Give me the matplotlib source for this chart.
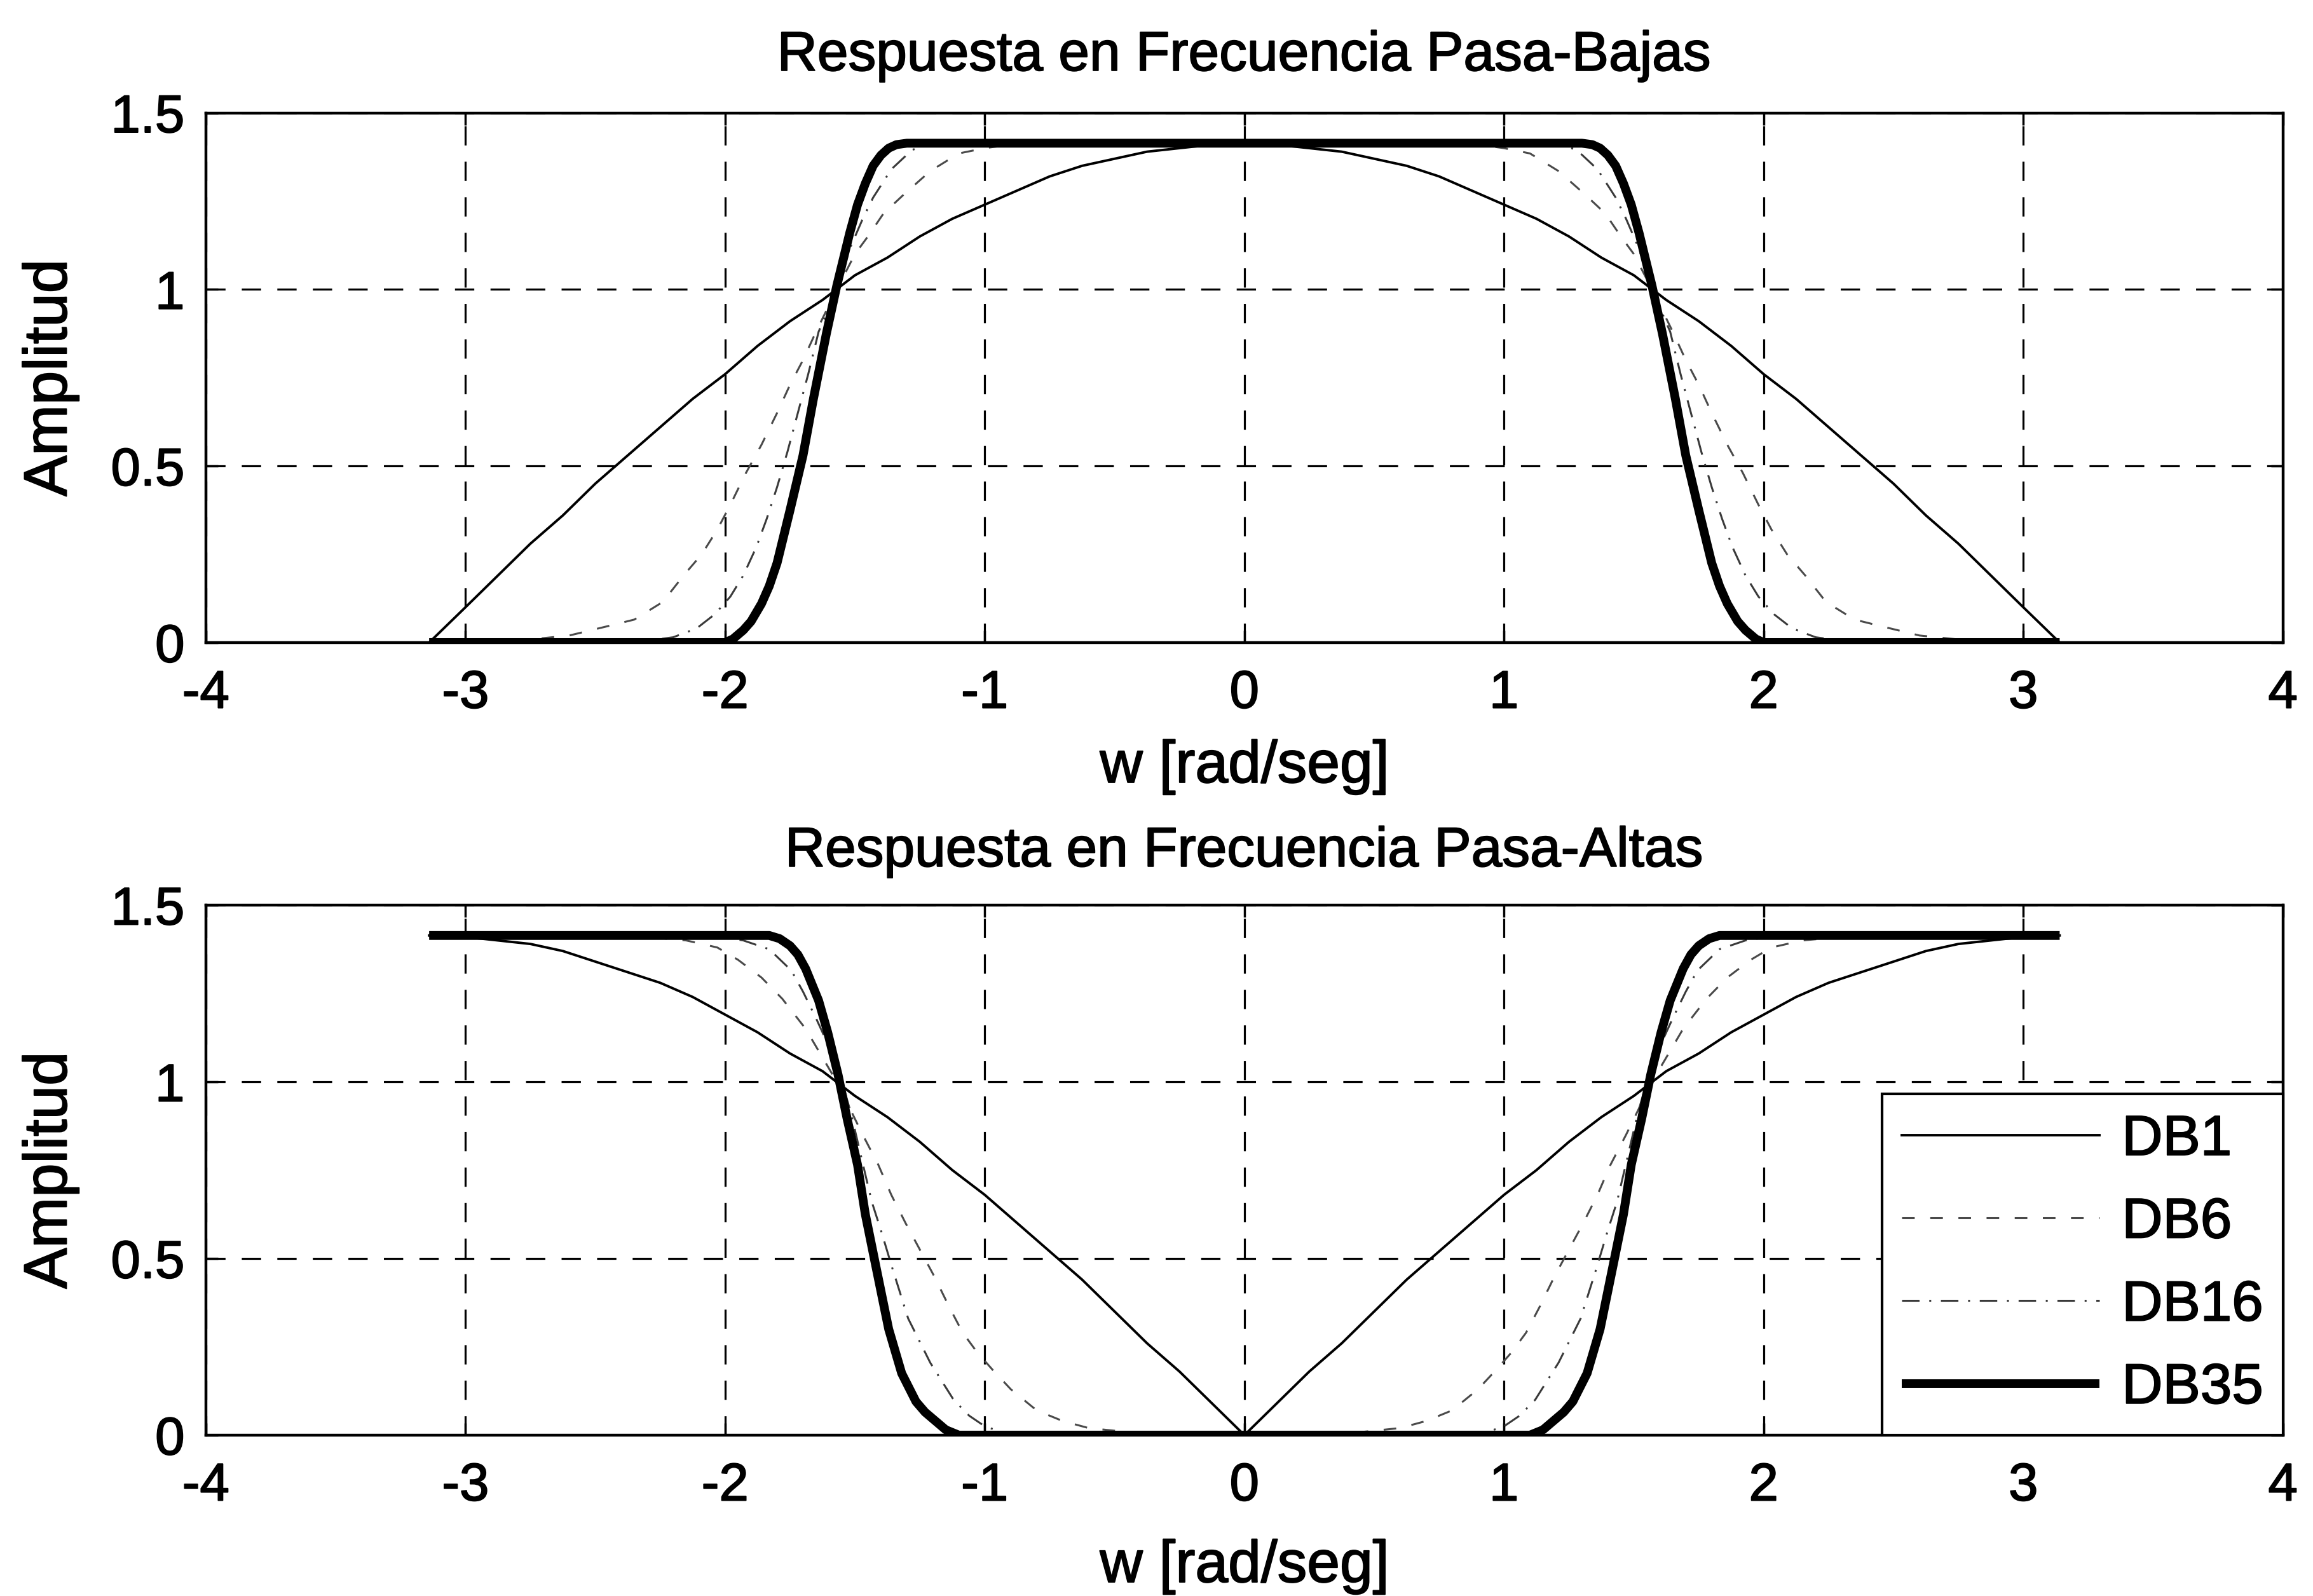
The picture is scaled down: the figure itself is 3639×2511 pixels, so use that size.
import matplotlib
matplotlib.use("Agg")
import matplotlib.pyplot as plt
import matplotlib.patheffects as pe

plt.rcParams['font.family'] = ['Liberation Sans', 'DejaVu Sans']
plt.rcParams['axes.unicode_minus'] = False

# ---------------- data ----------------
x_ticks = [-4, -3, -2, -1, 0, 1, 2, 3, 4]
x_ticklabels = ["-4", "-3", "-2", "-1", "0", "1", "2", "3", "4"]
y_ticks = [0, 0.5, 1, 1.5]
y_ticklabels = ["0", "0.5", "1", "1.5"]
series_names = ["DB1", "DB6", "DB16", "DB35"]
titles = ["Respuesta en Frecuencia Pasa-Bajas", "Respuesta en Frecuencia Pasa-Altas"]

# DB1 (both panels share the same frequency samples)
w_db1 = [-3.14, -3.0, -2.875, -2.75, -2.625, -2.5, -2.375, -2.25, -2.125, -2.0, -1.875, -1.75, -1.625,
         -1.5, -1.375, -1.25, -1.125, -1.0, -0.875, -0.75, -0.625, -0.5, -0.375, -0.25, -0.125, 0.0,
         0.125, 0.25, 0.375, 0.5, 0.625, 0.75, 0.875, 1.0, 1.125, 1.25, 1.375, 1.5, 1.625,
         1.75, 1.875, 2.0, 2.125, 2.25, 2.375, 2.5, 2.625, 2.75, 2.875, 3.0, 3.14]
lp_db1 = [0.0, 0.10, 0.19, 0.28, 0.36, 0.45, 0.53, 0.61, 0.69, 0.76, 0.84, 0.91, 0.97,
          1.04, 1.09, 1.15, 1.20, 1.24, 1.28, 1.32, 1.35, 1.37, 1.39, 1.40, 1.41, 1.414,
          1.41, 1.40, 1.39, 1.37, 1.35, 1.32, 1.28, 1.24, 1.20, 1.15, 1.09, 1.04, 0.97,
          0.91, 0.84, 0.76, 0.69, 0.61, 0.53, 0.45, 0.36, 0.28, 0.19, 0.10, 0.0]
hp_db1 = [1.414, 1.41, 1.40, 1.39, 1.37, 1.34, 1.31, 1.28, 1.24, 1.19, 1.14, 1.08, 1.03,
          0.96, 0.90, 0.83, 0.75, 0.68, 0.60, 0.52, 0.44, 0.35, 0.26, 0.18, 0.09, 0.0,
          0.09, 0.18, 0.26, 0.35, 0.44, 0.52, 0.60, 0.68, 0.75, 0.83, 0.90, 0.96, 1.03,
          1.08, 1.14, 1.19, 1.24, 1.28, 1.31, 1.34, 1.37, 1.39, 1.40, 1.41, 1.414]

# Low-pass DB6
w_lp_db6 = [-3.14, -2.8, -2.6, -2.46, -2.35, -2.24, -2.16, -2.09, -2.03, -1.98, -1.92, -1.86, -1.80,
            -1.75, -1.70, -1.65, -1.57, -1.50, -1.45, -1.39, -1.31, -1.21, -1.10, -1.0, -0.9, -0.75,
            0.0,
            0.75, 0.9, 1.0, 1.10, 1.21, 1.31, 1.39, 1.45, 1.50, 1.57, 1.65, 1.70, 1.75, 1.80, 1.86,
            1.92, 1.98, 2.03, 2.09, 2.16, 2.24, 2.35, 2.46, 2.6, 2.8, 3.14]
a_lp_db6 = [0.0, 0.005, 0.02, 0.045, 0.065, 0.115, 0.19, 0.25, 0.32, 0.39, 0.48, 0.56, 0.65,
            0.73, 0.80, 0.88, 1.0, 1.10, 1.15, 1.215, 1.27, 1.335, 1.385, 1.40, 1.41, 1.414,
            1.414,
            1.414, 1.41, 1.40, 1.385, 1.335, 1.27, 1.215, 1.15, 1.10, 1.0, 0.88, 0.80, 0.73, 0.65, 0.56,
            0.48, 0.39, 0.32, 0.25, 0.19, 0.115, 0.065, 0.045, 0.02, 0.005, 0.0]

# Low-pass DB16
w_lp_db16 = [-3.14, -2.35, -2.2, -2.11, -2.04, -1.98, -1.93, -1.88, -1.84, -1.80, -1.76, -1.72, -1.68,
             -1.64, -1.57, -1.52, -1.47, -1.43, -1.36, -1.28, -1.2,
             0.0,
             1.2, 1.28, 1.36, 1.43, 1.47, 1.52, 1.57, 1.64, 1.68, 1.72, 1.76, 1.80, 1.84, 1.88, 1.93,
             1.98, 2.04, 2.11, 2.2, 2.35, 3.14]
a_lp_db16 = [0.0, 0.0, 0.015, 0.04, 0.08, 0.13, 0.19, 0.27, 0.35, 0.44, 0.54, 0.65, 0.76,
             0.88, 1.0, 1.115, 1.20, 1.26, 1.34, 1.395, 1.414,
             1.414,
             1.414, 1.395, 1.34, 1.26, 1.20, 1.115, 1.0, 0.88, 0.76, 0.65, 0.54, 0.44, 0.35, 0.27, 0.19,
             0.13, 0.08, 0.04, 0.015, 0.0, 0.0]

# Low-pass DB35
w_lp_db35 = [-3.14, -2.0, -1.97, -1.93, -1.90, -1.86, -1.83, -1.80, -1.75, -1.70, -1.66, -1.61, -1.57,
             -1.52, -1.49, -1.46, -1.43, -1.40, -1.37, -1.34, -1.30,
             0.0,
             1.30, 1.34, 1.37, 1.40, 1.43, 1.46, 1.49, 1.52, 1.57, 1.61, 1.66, 1.70, 1.75, 1.80, 1.83,
             1.86, 1.90, 1.93, 1.97, 2.0, 3.14]
a_lp_db35 = [0.0, 0.0, 0.01, 0.035, 0.06, 0.11, 0.16, 0.225, 0.375, 0.53, 0.69, 0.875, 1.01,
             1.16, 1.24, 1.30, 1.35, 1.38, 1.40, 1.41, 1.414,
             1.414,
             1.414, 1.41, 1.40, 1.38, 1.35, 1.30, 1.24, 1.16, 1.01, 0.875, 0.69, 0.53, 0.375, 0.225, 0.16,
             0.11, 0.06, 0.035, 0.01, 0.0, 0.0]

# High-pass DB6
w_hp_db6 = [-3.14, -2.3, -2.15, -2.03, -1.95, -1.86, -1.78, -1.69, -1.57, -1.47, -1.41, -1.36, -1.305,
            -1.25, -1.195, -1.135, -1.085, -1.03, -0.97, -0.9, -0.8, -0.7, -0.6, -0.4,
            0.0,
            0.4, 0.6, 0.7, 0.8, 0.9, 0.97, 1.03, 1.085, 1.135, 1.195, 1.25, 1.305, 1.36, 1.41, 1.47,
            1.57, 1.69, 1.78, 1.86, 1.95, 2.03, 2.15, 2.3, 3.14]
a_hp_db6 = [1.414, 1.41, 1.40, 1.38, 1.345, 1.295, 1.235, 1.15, 1.0, 0.85, 0.765, 0.68, 0.60,
            0.525, 0.45, 0.36, 0.29, 0.235, 0.185, 0.13, 0.07, 0.04, 0.02, 0.005,
            0.0,
            0.005, 0.02, 0.04, 0.07, 0.13, 0.185, 0.235, 0.29, 0.36, 0.45, 0.525, 0.60, 0.68, 0.765, 0.85,
            1.0, 1.15, 1.235, 1.295, 1.345, 1.38, 1.40, 1.41, 1.414]

# High-pass DB16
w_hp_db16 = [-3.14, -2.05, -1.93, -1.83, -1.745, -1.70, -1.65, -1.60, -1.55, -1.515, -1.48, -1.435,
             -1.40, -1.355, -1.295, -1.21, -1.12, -1.06, -1.0, -0.9,
             0.0,
             0.9, 1.0, 1.06, 1.12, 1.21, 1.295, 1.355, 1.40, 1.435, 1.48, 1.515, 1.55, 1.60, 1.65,
             1.70, 1.745, 1.83, 1.93, 2.05, 3.14]
a_hp_db16 = [1.414, 1.414, 1.40, 1.375, 1.315, 1.255, 1.18, 1.10, 1.0, 0.91, 0.80, 0.66,
             0.58, 0.47, 0.33, 0.205, 0.10, 0.055, 0.025, 0.0,
             0.0,
             0.0, 0.025, 0.055, 0.10, 0.205, 0.33, 0.47, 0.58, 0.66, 0.80, 0.91, 1.0, 1.10, 1.18,
             1.255, 1.315, 1.375, 1.40, 1.414, 1.414]

# High-pass DB35
w_hp_db35 = [-3.14, -1.83, -1.79, -1.75, -1.72, -1.69, -1.64, -1.605, -1.565, -1.53, -1.49, -1.46,
             -1.42, -1.37, -1.32, -1.265, -1.23, -1.19, -1.15, -1.10,
             0.0,
             1.10, 1.15, 1.19, 1.23, 1.265, 1.32, 1.37, 1.42, 1.46, 1.49, 1.53, 1.565, 1.605, 1.64,
             1.69, 1.72, 1.75, 1.79, 1.83, 3.14]
a_hp_db35 = [1.414, 1.414, 1.405, 1.385, 1.36, 1.32, 1.23, 1.14, 1.02, 0.895, 0.765, 0.625,
             0.48, 0.30, 0.175, 0.095, 0.065, 0.04, 0.015, 0.0,
             0.0,
             0.0, 0.015, 0.04, 0.065, 0.095, 0.175, 0.30, 0.48, 0.625, 0.765, 0.895, 1.02, 1.14, 1.23,
             1.32, 1.36, 1.385, 1.405, 1.414, 1.414]

# ---------------- styles ----------------
styles = {
    "DB1": dict(color="black", lw=2.8, ls="-"),
    "DB6": dict(color="#4a4a4a", lw=2.2, ls=(0, (6.5, 8))),
    "DB16": dict(color="#3a3a3a", lw=2.2, ls=(0, (9, 5, 1, 5))),
    "DB35": dict(color="black", lw=10, ls="-", solid_capstyle="butt"),
}

TICK_FS = 60
XLABEL_FS = 67
YLABEL_FS = 69
TITLE_FS = 63
LEGEND_FS = 64
BOLDEN = [pe.withStroke(linewidth=1.4, foreground="black")]

fig = plt.figure(figsize=(36.39, 25.11), dpi=100)
fig.patch.set_facecolor("white")
ax1 = fig.add_axes([0.0890, 0.5974, 0.8980, 0.3319])
ax2 = fig.add_axes([0.0890, 0.1008, 0.8980, 0.3321])

panels = [
    (ax1, [(w_db1, lp_db1), (w_lp_db6, a_lp_db6), (w_lp_db16, a_lp_db16), (w_lp_db35, a_lp_db35)],
     titles[0], 48, 24),
    (ax2, [(w_db1, hp_db1), (w_hp_db6, a_hp_db6), (w_hp_db16, a_hp_db16), (w_hp_db35, a_hp_db35)],
     titles[1], 44, 32),
]

for ax, curves, title, tpad, xpad in panels:
    for name, (w, a) in zip(series_names, curves):
        ax.plot(w, a, label=name, **styles[name])
    ax.set_xlim(-4, 4)
    ax.set_ylim(0, 1.5)
    ax.set_xticks(x_ticks)
    ax.set_xticklabels(x_ticklabels)
    ax.set_yticks(y_ticks)
    ax.set_yticklabels(y_ticklabels)
    ax.grid(True, color="black", lw=2.3, ls=(0, (9.5, 8)))
    ax.set_axisbelow(True)
    ax.tick_params(axis="both", direction="in", length=14, width=2.5, top=True, right=True,
                   labelsize=TICK_FS)
    ax.tick_params(axis="x", pad=30)
    ax.tick_params(axis="y", pad=24)
    for s in ax.spines.values():
        s.set_linewidth(3.2)
        s.set_color("black")
    ax.set_xlabel("w [rad/seg]", fontsize=XLABEL_FS, labelpad=xpad, path_effects=BOLDEN)
    ax.set_ylabel("Amplitud", fontsize=YLABEL_FS, labelpad=36, path_effects=BOLDEN)
    ax.set_title(title, fontsize=TITLE_FS, pad=tpad, path_effects=BOLDEN)
    for lab in ax.get_xticklabels() + ax.get_yticklabels():
        lab.set_path_effects(BOLDEN)

leg = ax2.legend(loc="lower right", bbox_to_anchor=(1.0, 0.0), borderaxespad=0.0,
                 fontsize=LEGEND_FS, frameon=True, fancybox=False, framealpha=1.0,
                 edgecolor="black", handlelength=3.5, handletextpad=0.4,
                 labelspacing=0.52, borderpad=0.35)
leg.get_frame().set_linewidth(3.0)
for t in leg.get_texts():
    t.set_path_effects(BOLDEN)

fig.savefig("out.png", dpi=100, facecolor="white")
